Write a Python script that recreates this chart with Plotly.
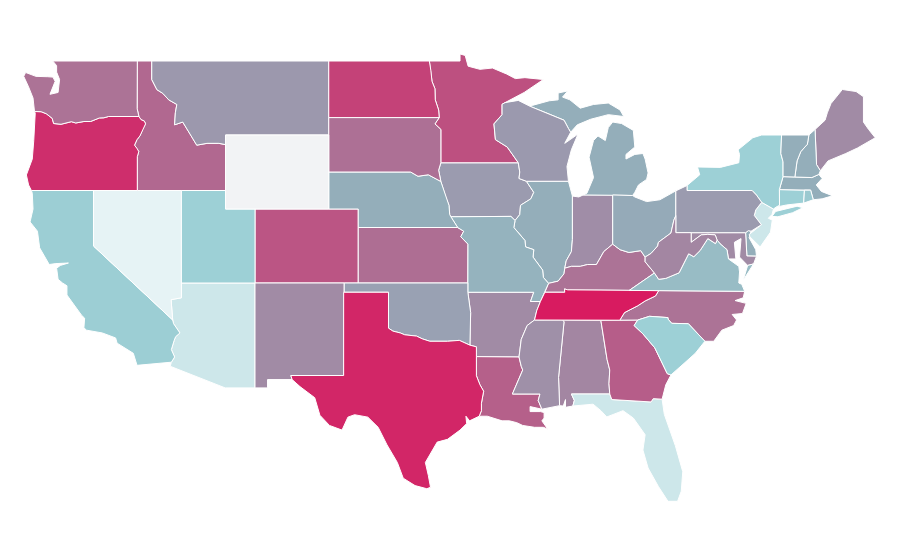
import plotly.graph_objects as go
from plotly.colors import sample_colorscale

states = ["AL","AR","AZ","CA","CO","CT","DC","DE","FL","GA","IA","ID","IL","IN","KS","KY","LA","MA","MD","ME","MI","MN","MO","MS","MT","NC","ND","NE","NH","NJ","NM","NV","NY","OH","OK","OR","PA","RI","SC","SD","TN","TX","UT","VA","VT","WA","WI","WV","WY"]
values = [60,58,8.5,26,79,25,58,40,8.5,76,50,72,40,57,70,68,75,40,58,58,40,81,38,56,52,68,86,40,40,8.5,58,0,25,42,47,93,50,28,25,69,100,96,25,34,40,68,51,60,None]
NO_DATA_COLOR = "#f2f3f5"
color_scale = [[0,"#e6f3f5"],[0.25,"#9dd0d6"],[0.40,"#94aeba"],[0.55,"#9e92aa"],[0.70,"#ae6e93"],[1,"#d81b60"]]

# Shared boundaries (lon, lat)
COLUMBIA = [(-116.92,46.0),(-118.98,46.0),(-119.3,45.93),(-119.6,45.92),(-120.2,45.73),(-120.65,45.73),(-121.2,45.65),(-121.5,45.72),(-122.2,45.58),(-122.7,45.62),(-122.8,45.9),(-123.2,46.15),(-123.55,46.26),(-124.0,46.27)]
SNAKE = [(-117.04,46.42),(-116.92,46.0),(-116.78,45.83),(-116.55,45.75),(-116.47,45.6),(-116.67,45.3),(-116.85,44.95),(-117.05,44.75),(-117.22,44.45),(-117.03,44.25),(-116.93,44.1),(-117.03,43.83),(-117.03,42)]
BITTERROOT = [(-116.05,49),(-116.05,48),(-115.7,47.45),(-115.3,47.25),(-114.9,46.9),(-114.35,46.65),(-114.45,46.2),(-114.5,45.55),(-113.95,45.7),(-113.45,45.05),(-113.0,44.45),(-112.3,44.55),(-111.5,44.55),(-111.05,44.48)]
COLORADO_R = [(-114.63,35.0),(-114.57,34.8),(-114.14,34.3),(-114.43,34.1),(-114.53,33.9),(-114.72,33.4),(-114.5,33.0),(-114.72,32.72)]
RED_N = [(-97.23,49),(-97.13,48.5),(-97.05,47.9),(-96.85,47.5),(-96.83,46.9),(-96.6,46.35),(-96.56,45.94)]
MISSOURI_N = [(-96.45,43.5),(-96.6,43.1),(-96.45,42.49),(-96.25,42.0),(-96.1,41.6),(-95.9,41.2),(-95.85,40.7),(-95.77,40.58)]
RED_S = [(-100,34.56),(-99.7,34.4),(-99.2,34.3),(-98.9,34.2),(-98.1,34.13),(-97.7,33.98),(-97.2,33.85),(-96.6,33.85),(-96.0,33.85),(-95.2,33.9),(-94.48,33.64)]
SABINE = [(-94.04,31.99),(-93.8,31.5),(-93.55,31.15),(-93.7,30.5),(-93.7,30.1),(-93.85,29.8)]
MISS_UP = [(-92.75,44.75),(-91.95,44.35),(-91.2,43.5),(-91.1,43.0),(-91.15,42.65),(-90.65,42.5),(-90.15,41.9),(-90.35,41.55),(-91.05,41.2),(-91.1,40.7),(-91.42,40.38)]
MISS_MID = [(-91.42,40.38),(-91.5,40.0),(-90.75,39.3),(-90.7,38.95),(-90.15,38.8),(-90.2,38.4),(-89.55,37.7),(-89.5,37.3),(-89.15,36.98)]
MISS_LOW = [(-89.4,36.5),(-89.7,36.0),(-89.95,35.5),(-90.1,35.0),(-90.6,34.7),(-91.0,33.95),(-91.15,33.0)]
OHIO_W = [(-89.15,36.98),(-88.5,37.1),(-88.1,37.5),(-88.05,37.8)]
OHIO_IN = [(-88.05,37.8),(-87.6,37.9),(-87.0,37.9),(-86.5,38.0),(-85.9,38.0),(-85.4,38.7),(-84.8,39.1)]
OHIO_OH = [(-84.8,39.1),(-84.3,38.8),(-83.7,38.65),(-82.9,38.75),(-82.6,38.4)]
OHIO_WV = [(-82.6,38.4),(-82.2,38.6),(-81.75,39.0),(-81.7,39.2),(-80.85,39.7),(-80.65,40.4),(-80.52,40.64)]
TN_KY = [(-89.4,36.5),(-88.05,36.5),(-88.07,36.68),(-87.85,36.63),(-83.68,36.6)]
TN_NC = [(-81.68,36.59),(-81.9,36.3),(-82.6,36.03),(-83.1,35.77),(-84.0,35.4),(-84.32,34.99)]
SAVANNAH = [(-83.1,35),(-83.35,34.7),(-82.75,34.25),(-81.95,33.5),(-81.4,32.6),(-81.1,32.1),(-80.85,32.03)]
POTOMAC = [(-76.95,38.3),(-77.05,38.8),(-77.52,39.12),(-77.72,39.32)]
VA_WV = [(-77.72,39.32),(-77.83,39.13),(-78.35,39.4),(-78.87,38.76),(-79.3,38.42),(-79.65,38.58),(-80.3,37.55),(-81.2,37.25),(-81.68,37.2),(-81.97,37.54)]
UP_WI = [(-90.4,46.55),(-89.1,46.13),(-88.1,45.8),(-87.8,45.35),(-87.65,45.15)]
VT_NH = [(-71.5,45.0),(-71.6,44.5),(-72.05,44.1),(-72.3,43.6),(-72.45,42.73)]

shapes = {
"WA": [[(-122.76,49),(-117.03,49),(-117.04,46.42),(-116.92,46.0)] + COLUMBIA[1:] + [(-124.07,46.7),(-124.1,47.0),(-124.4,47.6),(-124.73,48.17),(-124.6,48.38),(-123.9,48.17),(-123.1,48.15),(-122.75,48.13),(-122.6,47.9),(-122.95,47.2),(-122.4,47.3),(-122.35,47.8),(-122.3,48.0),(-122.5,48.4),(-122.5,48.75)]],
"OR": [COLUMBIA[::-1] + SNAKE[2:] + [(-124.21,42),(-124.4,42.3),(-124.55,42.84),(-124.15,43.7),(-124.05,44.7),(-123.95,46.18)]],
"CA": [[(-124.21,42),(-120,42),(-120,39),(-114.63,35.0)] + COLORADO_R[1:] + [(-117.05,32.55),(-117.3,33.2),(-118.4,33.75),(-118.5,34.03),(-119.4,34.3),(-120.47,34.45),(-120.65,34.58),(-120.6,35.1),(-120.8,35.25),(-121.8,36.35),(-121.8,36.85),(-122.1,37.0),(-122.4,37.2),(-122.5,37.8),(-122.25,37.95),(-121.7,38.08),(-122.3,38.08),(-122.55,38.05),(-123.0,38.0),(-123.65,38.9),(-123.8,39.8),(-124.3,40.3),(-124.1,41.0),(-124.15,41.85)]],
"NV": [[(-120,42),(-114.04,42),(-114.04,36.2),(-114.74,36.1),(-114.63,35.0),(-120,39)]],
"ID": [[(-117.03,49)] + BITTERROOT + [(-111.05,42)] + SNAKE[::-1]],
"MT": [BITTERROOT + [(-111.05,45),(-104.05,45),(-104.05,49)]],
"WY": [[(-111.05,45),(-104.05,45),(-104.05,41),(-111.05,41)]],
"UT": [[(-114.04,42),(-111.05,42),(-111.05,41),(-109.05,41),(-109.05,37),(-114.04,37)]],
"CO": [[(-109.05,41),(-102.05,41),(-102.05,37),(-109.05,37)]],
"AZ": [[(-114.04,37),(-109.05,37),(-109.05,31.33),(-111.07,31.33),(-114.8,32.5)] + COLORADO_R[::-1] + [(-114.74,36.1),(-114.04,36.2)]],
"NM": [[(-109.05,37),(-103.0,37),(-103.04,32),(-106.62,32),(-106.53,31.78),(-108.2,31.78),(-108.2,31.33),(-109.05,31.33)]],
"ND": [[(-104.05,49)] + RED_N + [(-104.05,45.94)]],
"SD": [[(-104.05,45.94),(-96.56,45.94),(-96.85,45.6),(-96.45,45.3)] + MISSOURI_N[:3] + [(-97.3,42.85),(-98.0,42.77),(-98.5,43.0),(-104.05,43)]],
"NE": [[(-104.05,43),(-98.5,43),(-98.0,42.77),(-97.3,42.85)] + MISSOURI_N[2:] + [(-95.31,40),(-102.05,40),(-102.05,41),(-104.05,41)]],
"KS": [[(-102.05,40),(-95.31,40),(-94.9,39.8),(-95.1,39.5),(-94.61,39.1),(-94.62,37),(-102.05,37)]],
"OK": [[(-103,37),(-94.62,37),(-94.62,36.5),(-94.43,35.4)] + RED_S[::-1] + [(-100,36.5),(-103,36.5)]],
"TX": [[(-103.04,36.5),(-100,36.5)] + RED_S + [(-94.04,33.55),(-94.04,33.02)] + SABINE + [(-94.5,29.55),(-94.75,29.8),(-94.7,29.4),(-95.15,29.05),(-96.0,28.55),(-96.7,28.4),(-97.1,27.85),(-97.5,27.3),(-97.3,26.6),(-97.15,25.96),(-97.4,25.88),(-98.2,26.05),(-99.0,26.45),(-99.4,27.3),(-100.1,28.25),(-100.7,29.2),(-101.4,29.75),(-102.3,29.88),(-102.75,29.75),(-103.15,29.05),(-104.0,29.3),(-104.65,29.85),(-105.0,30.8),(-106.0,31.4),(-106.53,31.78),(-106.62,32),(-103.04,32)]],
"MN": [[(-97.23,49),(-95.15,49),(-95.15,49.38),(-94.8,49.3),(-94.6,48.72),(-93.8,48.55),(-92.95,48.62),(-92.0,48.3),(-91.4,48.05),(-90.75,48.1),(-89.5,48.0),(-90.8,47.3),(-92.1,46.75),(-92.3,46.66),(-92.3,46.1),(-92.85,45.6)] + MISS_UP[:3] + [(-96.45,43.5),(-96.45,45.3),(-96.85,45.6)] + RED_N[::-1][:-1]],
"IA": [[(-96.45,43.5)] + MISS_UP[2:] + [(-91.7,40.6),(-95.77,40.58)] + MISSOURI_N[::-1][1:-1]],
"MO": [[(-95.77,40.58),(-91.7,40.6)] + MISS_MID + MISS_LOW[:2] + [(-90.37,36.0),(-90.15,36.5),(-94.62,36.5),(-94.62,37),(-94.61,39.1),(-95.1,39.5),(-94.9,39.8),(-95.31,40)]],
"AR": [[(-94.62,36.5),(-90.15,36.5),(-90.37,36.0)] + MISS_LOW[1:] + [(-94.04,33.02),(-94.04,33.55),(-94.48,33.64),(-94.43,35.4)]],
"LA": [[(-94.04,33.02),(-91.15,33.0),(-91.0,32.5),(-90.9,32.3),(-91.6,31.0),(-89.73,31.0),(-89.85,30.65),(-89.6,30.18),(-90.4,30.32),(-90.4,30.05),(-89.7,30.05),(-89.45,30.0),(-89.45,29.7),(-89.6,29.55),(-89.2,29.1),(-89.5,29.2),(-90.1,29.2),(-90.9,29.3),(-91.3,29.45),(-91.8,29.55),(-92.3,29.55),(-93.3,29.8)] + SABINE[::-1]],
"MS": [[(-90.1,35.0),(-88.2,35.0),(-88.1,34.9),(-88.47,31.9),(-88.4,30.37),(-89.6,30.18),(-89.85,30.65),(-89.73,31),(-91.6,31),(-90.9,32.3),(-91,32.5),(-91.15,33),(-91,33.95),(-90.6,34.7)]],
"TN": [MISS_LOW[:4][::-1] + TN_KY + TN_NC + [(-88.2,35)]],
"KY": [[(-89.4,36.5),(-89.15,36.98)] + OHIO_W[1:] + OHIO_IN[1:] + OHIO_OH[1:] + [(-82.6,38.15),(-81.97,37.54)] + TN_KY[::-1][:-1]],
"IL": [[(-90.65,42.5),(-87.8,42.5),(-87.53,41.7),(-87.53,39.35),(-87.6,38.7),(-87.95,38.2),(-88.05,37.8),(-88.1,37.5),(-88.5,37.1)] + MISS_MID[::-1] + MISS_UP[::-1][1:-5]],
"IN": [[(-87.53,41.7),(-87.1,41.65),(-86.8,41.76),(-84.8,41.76)] + OHIO_IN[::-1] + [(-87.95,38.2),(-87.6,38.7),(-87.53,39.35)]],
"OH": [[(-84.8,41.76),(-83.45,41.73),(-83.3,41.65),(-82.5,41.4),(-81.6,41.5),(-80.52,41.98),(-80.52,40.64)] + OHIO_WV[::-1][1:] + OHIO_OH[::-1][1:]],
"MI": [[(-86.8,41.76),(-84.8,41.76),(-83.45,41.73),(-83.3,41.9),(-83.05,42.3),(-82.5,42.6),(-82.4,42.95),(-82.6,43.7),(-82.75,44.0),(-83.3,43.95),(-83.9,43.7),(-83.9,43.95),(-83.3,44.35),(-83.4,45.25),(-84.2,45.62),(-84.8,45.7),(-85.1,45.4),(-85.3,44.7),(-85.8,44.95),(-86.1,44.7),(-86.4,43.8),(-86.1,42.7),(-86.55,41.85)],
       [(-90.25,46.6),(-89.1,46.85),(-88.5,46.9),(-88.5,47.27),(-87.85,47.38),(-88.2,47.05),(-87.7,46.9),(-87.0,46.45),(-86.1,46.65),(-85.1,46.73),(-84.3,46.35),(-84.05,46.0),(-85.1,46.1),(-86.3,45.85),(-87.2,45.55),(-87.65,45.15),(-87.8,45.35),(-88.1,45.8),(-89.1,46.13),(-90.4,46.55)]],
"WI": [[(-92.1,46.75),(-91.2,46.87)] + UP_WI + [(-88.05,44.55),(-87.15,45.05),(-87.6,44.2),(-87.9,43.3),(-87.8,42.5),(-90.65,42.5),(-91.15,42.65),(-91.1,43),(-91.2,43.5),(-91.95,44.35),(-92.75,44.75),(-92.85,45.6),(-92.3,46.1),(-92.3,46.66)]],
"AL": [[(-88.2,35),(-85.6,34.98),(-85.18,32.87),(-85.0,32.3),(-85.05,31.55),(-85.0,31.0),(-87.6,31.0),(-87.4,30.65),(-87.5,30.35),(-88.0,30.28),(-88.0,30.7),(-88.15,30.35),(-88.4,30.37),(-88.47,31.9),(-88.1,34.9)]],
"GA": [[(-85.6,34.98)] + SAVANNAH + [(-81.2,31.5),(-81.45,30.72),(-82.05,30.75),(-82.2,30.57),(-84.86,30.7),(-85,31),(-85.05,31.55),(-85,32.3),(-85.18,32.87)]],
"FL": [[(-87.6,31),(-85,31),(-84.86,30.7),(-82.2,30.57),(-82.05,30.75),(-81.45,30.72),(-81.3,29.9),(-80.8,28.7),(-80.55,28.2),(-80.05,26.8),(-80.15,25.75),(-80.4,25.2),(-81.05,25.2),(-81.7,26.0),(-82.4,27.0),(-82.75,27.97),(-82.6,28.8),(-83.4,29.7),(-84.1,30.1),(-85.2,29.76),(-85.6,30.1),(-86.13,30.45),(-87.5,30.35),(-87.4,30.65)]],
"SC": [SAVANNAH[::-1] + [(-82.3,35.2),(-81.05,35.13),(-81.05,35.05),(-80.8,34.82),(-79.67,34.8),(-78.55,33.85),(-79.2,33.2),(-79.9,32.7)]],
"NC": [TN_NC + [(-83.1,35),(-82.3,35.2),(-81.05,35.13),(-81.05,35.05),(-80.8,34.82),(-79.67,34.8),(-78.55,33.85),(-77.95,33.85),(-77.4,34.45),(-76.6,34.7),(-76.4,35.0),(-76.7,35.3),(-76.0,35.35),(-75.75,35.9),(-76.5,36.05),(-75.95,36.2),(-75.85,36.55)]],
"VA": [[(-83.68,36.6),(-81.68,36.59),(-75.85,36.55),(-76.05,36.93),(-76.25,37.0),(-76.2,37.6),(-76.25,37.9)] + POTOMAC + VA_WV[1:],
       [(-75.95,37.15),(-75.25,38.03),(-75.65,37.95)]],
"WV": [OHIO_WV + [(-80.52,39.72),(-79.48,39.72),(-79.48,39.2),(-78.8,39.6),(-78.35,39.63),(-77.85,39.6)] + VA_WV + [(-82.6,38.15)]],
"MD": [[(-79.48,39.72),(-75.79,39.72),(-75.7,38.46),(-75.05,38.45),(-75.25,38.03),(-75.65,37.95),(-76.2,38.4),(-76.1,39.4),(-76.55,39.2),(-76.45,38.3)] + POTOMAC + [(-77.85,39.6),(-78.35,39.63),(-78.8,39.6),(-79.48,39.2)]],
"DC": [[(-77.12,38.93),(-77.04,39.0),(-76.91,38.89),(-77.04,38.79)]],
"DE": [[(-75.79,39.72),(-75.6,39.83),(-75.42,39.8),(-75.55,39.45),(-75.1,38.8),(-75.05,38.45),(-75.7,38.46)]],
"PA": [[(-80.52,41.98),(-79.76,42.27),(-79.76,42.0),(-75.35,42.0),(-75.05,41.75),(-74.7,41.36),(-75.1,40.95),(-75.2,40.65),(-74.72,40.15),(-75.42,39.8),(-75.6,39.83),(-75.79,39.72),(-80.52,39.72)]],
"NJ": [[(-74.7,41.36),(-73.9,41.0),(-74.0,40.7),(-74.25,40.5),(-73.98,40.4),(-74.1,39.75),(-74.8,38.95),(-75.5,39.5),(-75.55,39.62),(-74.72,40.15),(-75.2,40.65),(-75.1,40.95)]],
"NY": [[(-79.76,42.0),(-79.76,42.27),(-78.9,42.85),(-79.05,43.27),(-77.5,43.25),(-76.25,43.5),(-76.2,43.95),(-76.3,44.2),(-75.3,44.85),(-74.7,45.0),(-73.35,45.0),(-73.4,44.0),(-73.25,43.55),(-73.25,42.75),(-73.5,42.05),(-73.49,41.2),(-73.73,41.1),(-73.9,41.0),(-74.7,41.36),(-75.05,41.75),(-75.35,42.0)],
       [(-74.0,40.6),(-73.75,40.87),(-72.3,41.15),(-71.9,41.07),(-72.6,40.8),(-73.6,40.58)]],
"CT": [[(-73.5,42.05),(-71.8,42.02),(-71.85,41.32),(-73.0,41.22),(-73.73,41.1),(-73.49,41.2)]],
"RI": [[(-71.8,42.02),(-71.38,42.02),(-71.2,41.5),(-71.85,41.32)]],
"MA": [[(-73.5,42.05),(-73.25,42.75),(-72.45,42.73),(-71.3,42.7),(-70.82,42.87),(-70.6,42.65),(-71.0,42.3),(-70.65,41.95),(-70.0,41.75),(-70.2,42.07),(-69.95,41.7),(-70.6,41.55),(-71.2,41.5),(-71.38,42.02),(-71.8,42.02)]],
"VT": [[(-73.35,45.0)] + VT_NH + [(-73.25,42.75),(-73.25,43.55),(-73.4,44.0)]],
"NH": [VT_NH[::-1] + [(-71.08,45.3),(-70.98,43.4),(-70.72,43.07),(-70.82,42.87),(-71.3,42.7)]],
"ME": [[(-71.08,45.3),(-70.4,45.8),(-70.25,46.2),(-70.0,46.7),(-69.23,47.46),(-68.3,47.35),(-67.8,47.07),(-67.8,45.7),(-67.45,45.3),(-67.0,44.85),(-68.2,44.3),(-69.0,44.0),(-70.2,43.6),(-70.72,43.07),(-70.98,43.4)]],
}

fig = go.Figure()
for st, val in zip(states, values):
    xs, ys = [], []
    for ring in shapes[st]:
        closed = ring + ring[:1]
        xs += [p[0] for p in closed] + [None]
        ys += [p[1] for p in closed] + [None]
    color = NO_DATA_COLOR if val is None else sample_colorscale(color_scale, val / 100)[0]
    fig.add_trace(go.Scatter(x=xs, y=ys, mode="lines", fill="toself", fillcolor=color,
                             line=dict(color="white", width=1), name=st, hoverinfo="name", showlegend=False))

fig.update_xaxes(visible=False, range=[-125.796, -64.779])
fig.update_yaxes(visible=False, range=[21.595, 51.865])
fig.update_layout(width=900, height=560, margin=dict(l=0, r=0, t=0, b=0),
                  paper_bgcolor="white", plot_bgcolor="white", showlegend=False)
fig.write_html("out.html")
